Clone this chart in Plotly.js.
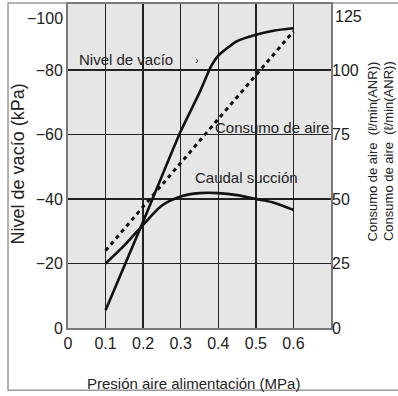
<!DOCTYPE html>
<html>
<head>
<meta charset="utf-8">
<script src="https://cdn.plot.ly/plotly-3.0.1.min.js"></script>
<style>
  html, body { margin: 0; padding: 0; background: #ffffff; }
  #chart { width: 398px; height: 396px; }
</style>
</head>
<body>
<div id="chart"></div>
<script>
// Supply pressure (MPa)
const pressure = [0.1, 0.2, 0.3, 0.35, 0.38, 0.4, 0.45, 0.5, 0.55, 0.6];
// Vacuum level (kPa)
const vacuumLevel = [-5.5, -33, -61, -73, -81, -84.5, -89, -91, -92.3, -93];

const pressureAir = [0.1, 0.2, 0.3, 0.4, 0.5, 0.6];
// Air consumption (l/min ANR)
const airConsumption = [30, 47, 64, 81, 98, 115];

const pressureSuction = [0.1, 0.15, 0.2, 0.25, 0.3, 0.35, 0.4, 0.45, 0.5, 0.55, 0.6];
// Suction flow (l/min ANR)
const suctionFlow = [25, 32, 40, 47.5, 51, 52.3, 52.3, 51.5, 50, 48.5, 45.8];

const xTicks = [0, 0.1, 0.2, 0.3, 0.4, 0.5, 0.6];
const xTickText = ['0', '0.1', '0.2', '0.3', '0.4', '0.5', '0.6'];
const yLeftTicks = [0, -20, -40, -60, -80];
const yLeftTop = -100;
const yRightTicks = [0, 25, 50, 75, 100];
const yRightTop = 125;

const FONT = 'Liberation Sans, Arial, Helvetica, sans-serif';
const TXT = '#222222';

const traces = [
  {
    x: pressure, y: vacuumLevel, yaxis: 'y', mode: 'lines', name: 'Nivel de vacío',
    line: { color: '#111111', width: 2.6, shape: 'spline', smoothing: 0.6 }
  },
  {
    x: pressureAir, y: airConsumption, yaxis: 'y2', mode: 'lines', name: 'Consumo de aire',
    line: { color: '#111111', width: 3, dash: '4px,4px' }
  },
  {
    x: pressureSuction, y: suctionFlow, yaxis: 'y2', mode: 'lines', name: 'Caudal succión',
    line: { color: '#111111', width: 2.6, shape: 'spline', smoothing: 0.8 }
  }
];

const layout = {
  width: 398, height: 396,
  margin: { l: 68, r: 67, t: 4, b: 68 },
  paper_bgcolor: '#ffffff',
  plot_bgcolor: '#e6e6e6',
  showlegend: false,
  font: { family: FONT, color: TXT, size: 16 },
  xaxis: {
    range: [0, 0.7],
    tickvals: xTicks, ticktext: xTickText,
    showgrid: true, gridcolor: '#222222', gridwidth: 1.5,
    zeroline: false,
    showline: true, linecolor: '#7a7a7a', linewidth: 2, mirror: true,
    ticks: '', tickfont: { size: 16, family: FONT, color: TXT },
    fixedrange: true
  },
  yaxis: {
    range: [0, -100.5],
    tickvals: yLeftTicks,
    showgrid: true, gridcolor: '#222222', gridwidth: 1.5,
    zeroline: false,
    showline: true, linecolor: '#7a7a7a', linewidth: 2, mirror: true,
    ticks: '', tickfont: { size: 16, family: FONT, color: TXT },
    fixedrange: true
  },
  yaxis2: {
    overlaying: 'y', side: 'right',
    range: [0, 125.6],
    tickvals: yRightTicks,
    showgrid: false, zeroline: false, showline: false,
    ticks: '', tickfont: { size: 16, family: FONT, color: TXT },
    fixedrange: true
  },
  annotations: [
    { text: '\u2212' + Math.abs(yLeftTop), xref: 'paper', yref: 'y', x: -0.01, y: yLeftTop, yshift: -13,
      xanchor: 'right', yanchor: 'middle', showarrow: false, font: { size: 16, family: FONT, color: TXT } },
    { text: String(yRightTop), xref: 'paper', yref: 'y2', x: 1.008, y: yRightTop, yshift: -11,
      xanchor: 'left', yanchor: 'middle', showarrow: false, font: { size: 16, family: FONT, color: TXT } },
    { text: 'Nivel de vacío', xref: 'x', yref: 'y', x: 0.024, y: -83.3, xanchor: 'left', yanchor: 'middle',
      showarrow: false, font: { size: 15, family: FONT, color: TXT } },
    { text: '›', xref: 'x', yref: 'y', x: 0.333, y: -83, xanchor: 'left', yanchor: 'middle',
      showarrow: false, font: { size: 11, family: FONT, color: TXT } },
    { text: 'Consumo de aire', xref: 'x', yref: 'y', x: 0.386, y: -62.2, xanchor: 'left', yanchor: 'middle',
      showarrow: false, font: { size: 15, family: FONT, color: TXT } },
    { text: 'Caudal succión', xref: 'x', yref: 'y', x: 0.333, y: -46.7, xanchor: 'left', yanchor: 'middle',
      showarrow: false, font: { size: 15, family: FONT, color: TXT } },
    { text: 'Presión aire alimentación (MPa)', xref: 'paper', yref: 'paper', x: 0.479, y: -0.170,
      xanchor: 'center', yanchor: 'middle', showarrow: false, font: { size: 15, family: FONT, color: TXT } },
    { text: 'Nivel de vacío (kPa)', xref: 'paper', yref: 'paper', x: -0.19, y: 0.505, textangle: -90,
      xanchor: 'center', yanchor: 'middle', showarrow: false, font: { size: 18, family: FONT, color: TXT } },
    { text: 'Consumo de aire  (ℓ/min(ANR))', xref: 'paper', yref: 'paper', x: 1.156, y: 0.545, textangle: -90,
      xanchor: 'center', yanchor: 'middle', showarrow: false, font: { size: 13, family: FONT, color: TXT } },
    { text: 'Consumo de aire  (ℓ/min(ANR))', xref: 'paper', yref: 'paper', x: 1.219, y: 0.545, textangle: -90,
      xanchor: 'center', yanchor: 'middle', showarrow: false, font: { size: 13, family: FONT, color: TXT } }
  ],
  shapes: [
    { type: 'rect', xref: 'paper', yref: 'paper', x0: -0.228, x1: 1.26, y0: -0.192, y1: 1.003,
      line: { color: '#9a9a9a', width: 1.5 }, fillcolor: 'rgba(0,0,0,0)', layer: 'below' }
  ]
};

Plotly.newPlot('chart', traces, layout, { displayModeBar: false, staticPlot: true });
</script>
</body>
</html>
